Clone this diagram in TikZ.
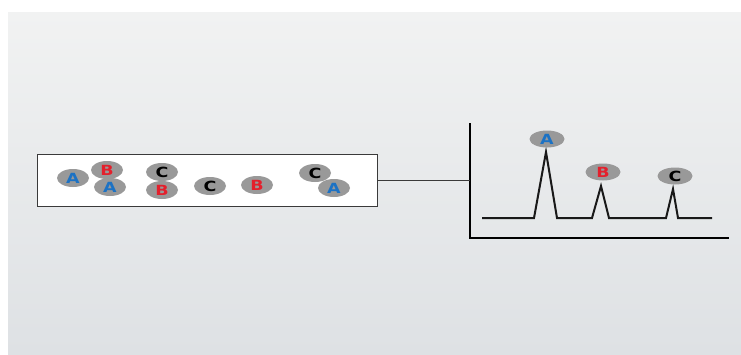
\documentclass[tikz,border=0pt]{standalone}
\usepackage{fontspec}
\setmainfont{DejaVu Sans}
\usetikzlibrary{shapes.geometric}
\definecolor{bgtop}{HTML}{F1F2F2}
\definecolor{bgbot}{HTML}{DEE1E4}
\definecolor{ballgray}{HTML}{999999}
\definecolor{molblue}{HTML}{1C72C4}
\definecolor{molred}{HTML}{E3202C}
\definecolor{boxline}{HTML}{3A3A3A}
\tikzset{
  mol/.style={ellipse, fill=ballgray, minimum width=32pt, minimum height=18pt, inner sep=0pt,
    font=\fontsize{14}{14}\bfseries},
  molA/.style={mol, text=molblue},
  molB/.style={mol, text=molred},
  molC/.style={mol, text=black},
  axis/.style={line width=2.2pt, black},
  trace/.style={line width=2pt, black!90, line join=miter},
}
\newcommand{\wl}[1]{\scalebox{1.25}[1]{#1}}
\begin{document}
\begin{tikzpicture}[x=1pt,y=-1pt]
\useasboundingbox (0,0) rectangle (741,354);
\fill[white] (0,0) rectangle (741,354);
\shade[top color=bgtop, bottom color=bgbot] (8,12) rectangle (741,354);
% sample box
\node[draw=boxline, line width=1.4pt, fill=white, minimum width=340pt, minimum height=52pt, inner sep=0pt, anchor=north west] (box) at (37,154) {};
\node[molA] (a1) at (73,178) {\wl{A}};
\node[molB] (b1) at (107,170) {\wl{B}};
\node[molA] (a2) at (110,187) {\wl{A}};
\node[molC] (c1) at (162,172) {\wl{C}};
\node[molB] (b2) at (162,190) {\wl{B}};
\node[molC] (c2) at (210,186) {\wl{C}};
\node[molB] (b3) at (257,185) {\wl{B}};
\node[molC] (c3) at (315,173) {\wl{C}};
\node[molA] (a3) at (334,188) {\wl{A}};
% axes
\coordinate (ytop) at (470,123);
\coordinate (origin) at (470,238);
\coordinate (xend) at (729,238);
\coordinate (yjoin) at (470,180);
\draw[axis] (ytop) -- (origin) -- (xend);
\draw[line width=0.9pt, boxline] (box.east |- yjoin) -- (yjoin);
% chromatogram
\coordinate (s) at (482,218);
\coordinate (e) at (712,218);
\draw[trace] (s) -- (534,218) -- (546,152) -- (557,218) -- (592,218) -- (601,186) -- (609,218)
  -- (666,218) -- (673,189) -- (678,218) -- (e);
\node[molA, minimum width=35pt, minimum height=17pt] (pa) at (547,139) {\wl{A}};
\node[molB, minimum width=35pt, minimum height=17pt] (pb) at (603,172) {\wl{B}};
\node[molC, minimum width=35pt, minimum height=17pt] (pc) at (675,176) {\wl{C}};
\end{tikzpicture}
\end{document}
